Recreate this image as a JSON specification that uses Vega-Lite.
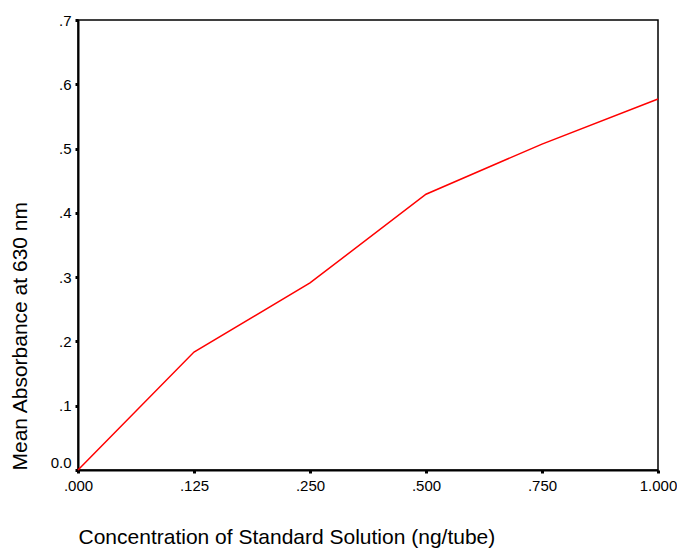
{
  "$schema": "https://vega.github.io/schema/vega-lite/v6.json",
  "width": 580,
  "height": 450,
  "autosize": {"type": "none"},
  "padding": {"left": 78, "top": 20, "right": 19, "bottom": 78},
  "background": "white",
  "config": {
    "font": "Liberation Sans",
    "view": {"stroke": "black", "strokeWidth": 1.5},
    "axis": {"grid": false, "domainColor": "black", "domainWidth": 2, "tickColor": "black", "tickWidth": 3, "tickSize": 3, "labelColor": "black", "labelFontSize": 15, "titleColor": "black", "titleFontSize": 21, "titleFontWeight": "normal"}
  },
  "data": {"values": [
    {"conc": ".000", "abs": 0.0},
    {"conc": ".125", "abs": 0.1835},
    {"conc": ".250", "abs": 0.291},
    {"conc": ".500", "abs": 0.429},
    {"conc": ".750", "abs": 0.507},
    {"conc": "1.000", "abs": 0.577}
  ]},
  "mark": {"type": "line", "color": "#ff0000", "strokeWidth": 1.5},
  "encoding": {
    "x": {"field": "conc", "type": "ordinal", "sort": null,
      "scale": {"type": "point", "padding": 0},
      "axis": {"title": "Concentration of Standard Solution (ng/tube)", "titleAnchor": "start", "titlePadding": 33, "labelAngle": 0, "labelPadding": 5}},
    "y": {"field": "abs", "type": "quantitative",
      "scale": {"domain": [0, 0.7], "nice": false},
      "axis": {"title": "Mean Absorbance at 630 nm", "titleAnchor": "start", "titlePadding": 20, "values": [0, 0.1, 0.2, 0.3, 0.4, 0.5, 0.6, 0.7],
        "labelExpr": "datum.value == 0 ? '0.0' : replace(format(datum.value, '.1f'), '0.', '.')",
        "labelOffset": {"condition": {"test": "datum.value == 0", "value": -8}, "value": 0}, "labelPadding": 4}}
  }
}
